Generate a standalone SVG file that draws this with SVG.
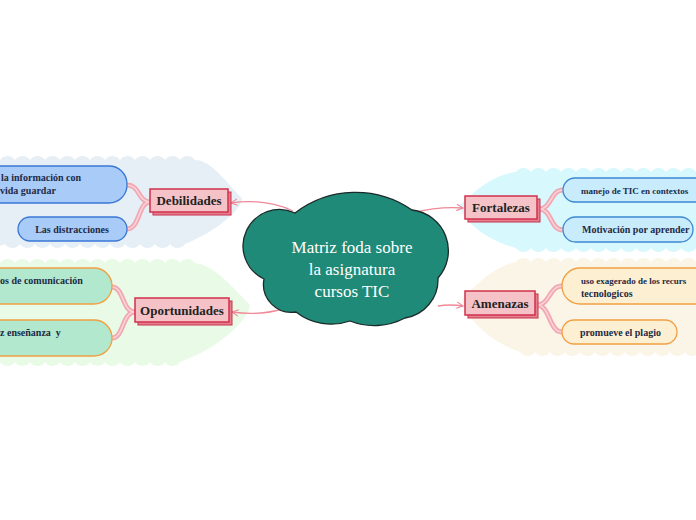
<svg xmlns="http://www.w3.org/2000/svg" width="696" height="520" viewBox="0 0 696 520">
<defs>
<style>
.main rect.back{fill:#e5808f;stroke:#c8304c;stroke-width:1}
.main rect.front{fill:#f5c3c7;stroke:#d0304c;stroke-width:1.5}
.main text{font-family:"Liberation Serif",serif;font-weight:bold;font-size:13px;fill:#222;text-anchor:middle}
.sub text{font-family:"Liberation Serif",serif;font-weight:bold;font-size:10px;fill:#1e2a45}
.sub text.tight{font-size:9px}
.conn{fill:none;stroke:#f08898;stroke-width:1.3}
.br1{fill:none;stroke:#f2a6b1;stroke-width:5;stroke-linecap:round}
.br2{fill:none;stroke:#fad3d8;stroke-width:1.6;stroke-linecap:round}
.blue rect{fill:#a9cbf7;stroke:#3b78d6;stroke-width:1.3}
.green rect{fill:#b2e8cd;stroke:#f0a043;stroke-width:1.3}
.cyan rect{fill:#c9ecfc;stroke:#3b88d2;stroke-width:1.3}
.cream rect{fill:#fdf0d2;stroke:#f0a043;stroke-width:1.3}
</style>
<marker id="arr" viewBox="0 0 10 10" refX="9" refY="5" markerWidth="8" markerHeight="8" orient="auto" markerUnits="userSpaceOnUse">
<path d="M1,1 L9,5 L1,9" fill="none" stroke="#f08898" stroke-width="1.4"/>
</marker>
</defs>
<rect width="696" height="520" fill="#ffffff"/>

<!-- background areas -->
<path fill="#e7eff6" d="M0,160 a9 9 0 0 1 15 0 a9 9 0 0 1 15 0 a9 9 0 0 1 15 0 a9 9 0 0 1 15 0 a9 9 0 0 1 15 0 a9 9 0 0 1 15 0 a9 9 0 0 1 15 0 a9 9 0 0 1 15 0 a9 9 0 0 1 15 0 a9 9 0 0 1 15 0 a9 9 0 0 1 15 0 a9 9 0 0 1 15 0 a9 9 0 0 1 15 0 C212,160 228,185 242,198 C242,210 215,232 185,244 a9 9 0 0 1 -15 0 a9 9 0 0 1 -15 0 a9 9 0 0 1 -15 0 a9 9 0 0 1 -15 0 a9 9 0 0 1 -15 0 a9 9 0 0 1 -15 0 a9 9 0 0 1 -15 0 a9 9 0 0 1 -15 0 a9 9 0 0 1 -15 0 a9 9 0 0 1 -15 0 a9 9 0 0 1 -15 0 a9 9 0 0 1 -15 0 a9 9 0 0 1 -10 0 Z"/>
<path fill="#e9fbe7" d="M0,263 a9 9 0 0 1 15 0 a9 9 0 0 1 15 0 a9 9 0 0 1 15 0 a9 9 0 0 1 15 0 a9 9 0 0 1 15 0 a9 9 0 0 1 15 0 a9 9 0 0 1 15 0 a9 9 0 0 1 15 0 a9 9 0 0 1 15 0 a9 9 0 0 1 15 0 a9 9 0 0 1 15 0 a9 9 0 0 1 15 0 a9 9 0 0 1 15 0 C215,265 235,290 250,305 C248,322 215,350 180,362 a9 9 0 0 1 -15 0 a9 9 0 0 1 -15 0 a9 9 0 0 1 -15 0 a9 9 0 0 1 -15 0 a9 9 0 0 1 -15 0 a9 9 0 0 1 -15 0 a9 9 0 0 1 -15 0 a9 9 0 0 1 -15 0 a9 9 0 0 1 -15 0 a9 9 0 0 1 -15 0 a9 9 0 0 1 -15 0 a9 9 0 0 1 -15 0 Z"/>
<path fill="#d7f8fd" d="M696,172 L516,172 C495,174 475,190 460,205 C462,220 485,240 516,248 a9 9 0 0 0 15 0 a9 9 0 0 0 15 0 a9 9 0 0 0 15 0 a9 9 0 0 0 15 0 a9 9 0 0 0 15 0 a9 9 0 0 0 15 0 a9 9 0 0 0 15 0 a9 9 0 0 0 15 0 a9 9 0 0 0 15 0 a9 9 0 0 0 15 0 a9 9 0 0 0 15 0 a9 9 0 0 0 15 0 L696,248 Z"/>
<path fill="#d7f8fd" d="M516,172 a9 9 0 0 1 15 0 a9 9 0 0 1 15 0 a9 9 0 0 1 15 0 a9 9 0 0 1 15 0 a9 9 0 0 1 15 0 a9 9 0 0 1 15 0 a9 9 0 0 1 15 0 a9 9 0 0 1 15 0 a9 9 0 0 1 15 0 a9 9 0 0 1 15 0 a9 9 0 0 1 15 0 a9 9 0 0 1 15 0 Z"/>
<path fill="#faf5e6" d="M696,262 L516,262 C495,266 475,285 462,300 C466,318 490,342 520,352 a9 9 0 0 0 15 0 a9 9 0 0 0 15 0 a9 9 0 0 0 15 0 a9 9 0 0 0 15 0 a9 9 0 0 0 15 0 a9 9 0 0 0 15 0 a9 9 0 0 0 15 0 a9 9 0 0 0 15 0 a9 9 0 0 0 15 0 a9 9 0 0 0 15 0 a9 9 0 0 0 15 0 a9 9 0 0 0 15 0 L696,352 Z"/>
<path fill="#faf5e6" d="M516,262 a9 9 0 0 1 15 0 a9 9 0 0 1 15 0 a9 9 0 0 1 15 0 a9 9 0 0 1 15 0 a9 9 0 0 1 15 0 a9 9 0 0 1 15 0 a9 9 0 0 1 15 0 a9 9 0 0 1 15 0 a9 9 0 0 1 15 0 a9 9 0 0 1 15 0 a9 9 0 0 1 15 0 a9 9 0 0 1 15 0 Z"/>

<!-- connectors -->
<g id="connectors">
<path class="conn" d="M293,211 Q265,198 231,203" marker-end="url(#arr)"/>
<path class="conn" d="M412,213 Q440,206 463,208" marker-end="url(#arr)"/>
<path class="conn" d="M283,309 Q258,316 232,312" marker-end="url(#arr)"/>
<path class="conn" d="M438,306 Q450,304 463,306" marker-end="url(#arr)"/>
<path class="br1" d="M150,202 C138,202 140,185 127,185 M150,202 C138,202 140,229 127,229"/>
<path class="br2" d="M150,202 C138,202 140,185 127,185 M150,202 C138,202 140,229 127,229"/>
<path class="br1" d="M135,312 C122,312 124,287 112,287 M135,312 C122,312 124,338 112,338"/>
<path class="br2" d="M135,312 C122,312 124,287 112,287 M135,312 C122,312 124,338 112,338"/>
<path class="br1" d="M539,209 C552,209 550,190 563,190 M539,209 C552,209 550,230 563,230"/>
<path class="br2" d="M539,209 C552,209 550,190 563,190 M539,209 C552,209 550,230 563,230"/>
<path class="br1" d="M537,305 C550,305 549,286 562,286 M537,305 C550,305 549,332 562,332"/>
<path class="br2" d="M537,305 C550,305 549,332 562,332 M537,305 C550,305 549,286 562,286"/>
</g>

<!-- central node -->
<g id="center">
<path fill="#1f8a78" stroke="#1b2a28" stroke-width="1.3" d="M295,213 A99 99 0 0 1 412,210 A41 41 0 0 1 438,278 A39 39 0 0 1 405,318 A66 66 0 0 1 350,321 A57 57 0 0 1 296,312 A28 28 0 0 1 264,279 A33 33 0 0 1 295,213 Z"/>
<text font-family="Liberation Serif,serif" font-size="17" fill="#ffffff" text-anchor="middle"><tspan x="352" y="253">Matriz foda sobre</tspan><tspan x="352" y="275">la asignatura</tspan><tspan x="352" y="297">cursos TIC</tspan></text>
</g>

<!-- main topics -->
<g id="debilidades" class="main">
<rect class="back" x="153" y="192" width="78" height="23"/>
<rect class="front" x="150" y="189" width="78" height="23"/>
<text x="189" y="205">Debilidades</text>
</g>
<g id="oportunidades" class="main">
<rect class="back" x="138" y="301" width="94" height="24"/>
<rect class="front" x="135" y="298" width="94" height="24"/>
<text x="182" y="315">Oportunidades</text>
</g>
<g id="fortalezas" class="main">
<rect class="back" x="468" y="199" width="72" height="23"/>
<rect class="front" x="465" y="196" width="72" height="23"/>
<text x="501" y="212">Fortalezas</text>
</g>
<g id="amenazas" class="main">
<rect class="back" x="468" y="294" width="70" height="24"/>
<rect class="front" x="465" y="291" width="70" height="24"/>
<text x="500" y="308">Amenazas</text>
</g>

<!-- subtopics -->
<g id="deb1" class="sub blue">
<rect x="-30" y="166" width="157" height="37" rx="18"/>
<text><tspan x="1" y="181">la información con</tspan><tspan x="0" y="194">vida guardar</tspan></text>
</g>
<g id="deb2" class="sub blue">
<rect x="18" y="217" width="109" height="24" rx="12"/>
<text x="72" y="233" text-anchor="middle">Las distracciones</text>
</g>
<g id="opo1" class="sub green">
<rect x="-30" y="268" width="142" height="36" rx="18"/>
<text x="0" y="284">os de comunicación</text>
</g>
<g id="opo2" class="sub green">
<rect x="-30" y="320" width="142" height="36" rx="18"/>
<text x="0" y="336" xml:space="preserve">z enseñanza  y</text>
</g>
<g id="for1" class="sub cyan">
<rect x="563" y="178" width="150" height="24" rx="12"/>
<text class="tight" x="581" y="194">manejo de TIC en contextos</text>
</g>
<g id="for2" class="sub cyan">
<rect x="563" y="217" width="130" height="25" rx="12.5"/>
<text x="582" y="233">Motivación por aprender</text>
</g>
<g id="ame1" class="sub cream">
<rect x="562" y="268" width="160" height="36" rx="18"/>
<text class="tight" x="581" y="284">uso exagerado de los recurs</text>
<text x="581" y="297">tecnologicos</text>
</g>
<g id="ame2" class="sub cream">
<rect x="562" y="320" width="115" height="24" rx="12"/>
<text x="580" y="336">promueve el plagio</text>
</g>
</svg>
